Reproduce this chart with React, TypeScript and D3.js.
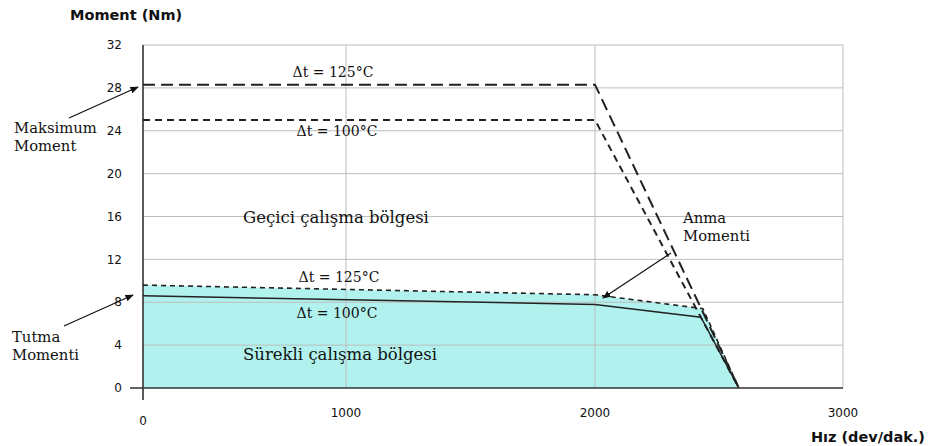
import React from 'react';
import * as d3 from 'd3';

// values
const speedTicks = [0, 1000, 2000, 3000];
const momentTicks = [0, 4, 8, 12, 16, 20, 24, 28, 32];

const peakSpeed125 = [0, 2000, 2580];
const peakMoment125 = [28.3, 28.3, 0];
const peakSpeed100 = [0, 2000, 2580];
const peakMoment100 = [25, 25, 0];

const contSpeed125 = [0, 2000, 2435, 2580];
const contMoment125 = [9.6, 8.7, 7.4, 0];
const contSpeed100 = [0, 2000, 2427, 2580];
const contMoment100 = [8.6, 7.8, 6.6, 0];

const W = 929, H = 446;
const serif = '"DejaVu Serif", "Liberation Serif", serif';
const sans = '"DejaVu Sans", "Liberation Sans", sans-serif';

export default function App() {
  // the source chart's x axis is not evenly spaced, so a piecewise scale
  const x = d3.scaleLinear().domain([0, 1000, 2000, 3000]).range([143, 346, 595, 843]);
  const y = d3.scaleLinear().domain([0, 32]).range([388, 45]);

  const pts = (xs: number[], ys: number[]) => xs.map((s, i) => [s, ys[i]] as [number, number]);
  const line = d3.line<[number, number]>().x(d => x(d[0])).y(d => y(d[1]));
  const area = d3.area<[number, number]>().x(d => x(d[0])).y0(y(0)).y1(d => y(d[1]));

  return (
    <svg width={W} height={H} style={{ position: 'absolute', left: 0, top: 0, background: '#fff' }}>
      <defs>
        <marker id="arr" viewBox="0 0 10 10" refX="9" refY="5" markerWidth="7" markerHeight="7" orient="auto">
          <path d="M0,1 L10,5 L0,9 Z" fill="#111" />
        </marker>
      </defs>

      {/* fill under continuous region */}
      <path d={area(pts(contSpeed125, contMoment125)) || ''} fill="#b2f2ee" />

      {/* grid */}
      {momentTicks.filter(t => t > 0).map(t => (
        <line key={'h' + t} x1={x(0)} x2={x(3000)} y1={y(t)} y2={y(t)} stroke="#bdbdbd" strokeWidth={1} />
      ))}
      {speedTicks.filter(t => t > 0).map(t => (
        <line key={'v' + t} x1={x(t)} x2={x(t)} y1={y(32)} y2={y(0)} stroke="#bdbdbd" strokeWidth={1} />
      ))}

      {/* axes */}
      <line x1={x(0)} x2={x(0)} y1={y(32)} y2={y(0) + 12} stroke="#333" strokeWidth={1.6} />
      <line x1={x(0) - 13} x2={x(3000)} y1={y(0)} y2={y(0)} stroke="#333" strokeWidth={1.6} />

      {momentTicks.map(t => (
        <text key={'yt' + t} x={122} y={y(t)} dy="0.35em" textAnchor="end" fontFamily={sans} fontSize={12} fill="#111">{t}</text>
      ))}
      {speedTicks.map(t => (
        <text key={'xt' + t} x={x(t)} y={t === 0 ? 421 : 413} dy="0.35em" textAnchor="middle" fontFamily={sans} fontSize={12} fill="#111">{t}</text>
      ))}

      <text x={70} y={20} fontFamily={sans} fontSize={14.5} fontWeight="bold" fill="#111">Moment (Nm)</text>
      <text x={925} y={442} textAnchor="end" fontFamily={sans} fontSize={14.5} fontWeight="bold" fill="#111">Hız (dev/dak.)</text>

      {/* curves */}
      <path d={line(pts(peakSpeed125, peakMoment125)) || ''} fill="none" stroke="#222" strokeWidth={2} strokeDasharray="12 6" />
      <path d={line(pts(peakSpeed100, peakMoment100)) || ''} fill="none" stroke="#222" strokeWidth={2} strokeDasharray="7 5" />
      <path d={line(pts(contSpeed125, contMoment125)) || ''} fill="none" stroke="#222" strokeWidth={1.6} strokeDasharray="5 4" />
      <path d={line(pts(contSpeed100, contMoment100)) || ''} fill="none" stroke="#222" strokeWidth={1.5} />

      {/* labels */}
      <g fontFamily={serif} fontSize={14} fill="#111">
        <text x={333} y={72} dy="0.35em" textAnchor="middle">Δt = 125°C</text>
        <text x={337} y={131} dy="0.35em" textAnchor="middle">Δt = 100°C</text>
        <text x={339} y={277} dy="0.35em" textAnchor="middle">Δt = 125°C</text>
        <text x={337} y={313} dy="0.35em" textAnchor="middle">Δt = 100°C</text>
        <text x={243} y={217} dy="0.35em" fontSize={16.5}>Geçici çalışma bölgesi</text>
        <text x={243} y={354} dy="0.35em" fontSize={16.5}>Sürekli çalışma bölgesi</text>
        <text x={14} y={128} dy="0.35em" fontSize={14.8}>Maksimum</text>
        <text x={14} y={146} dy="0.35em" fontSize={14.8}>Moment</text>
        <text x={12} y={337} dy="0.35em" fontSize={14.8}>Tutma</text>
        <text x={12} y={355} dy="0.35em" fontSize={14.8}>Momenti</text>
        <text x={683} y={218} dy="0.35em" fontSize={14.8}>Anma</text>
        <text x={683} y={236} dy="0.35em" fontSize={14.8}>Momenti</text>
      </g>

      {/* arrows */}
      <line x1={69} y1={118} x2={138} y2={87} stroke="#111" strokeWidth={1.2} markerEnd="url(#arr)" />
      <line x1={64} y1={326} x2={133} y2={295} stroke="#111" strokeWidth={1.2} markerEnd="url(#arr)" />
      <line x1={671} y1={253} x2={603} y2={298} stroke="#111" strokeWidth={1.2} markerEnd="url(#arr)" />
    </svg>
  );
}
